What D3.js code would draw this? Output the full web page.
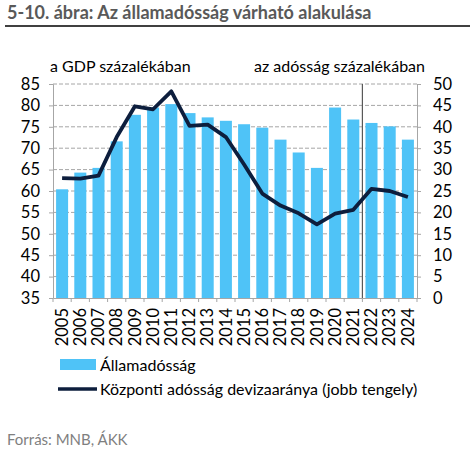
<!DOCTYPE html>
<html>
<head>
<meta charset="utf-8">
<script src="https://cdn.jsdelivr.net/npm/d3@7"></script>
<style>
  body { margin: 0; background: #fff; }
  svg { display: block; font-family: Lato, "Open Sans", sans-serif; }
</style>
</head>
<body>
<svg id="chart" width="474" height="451"></svg>
<script>
// values
var years = ['2005', '2006', '2007', '2008', '2009', '2010', '2011', '2012', '2013', '2014',
             '2015', '2016', '2017', '2018', '2019', '2020', '2021', '2022', '2023', '2024'];
var debt = [60.4, 64.3, 65.4, 71.6, 77.8, 79.5, 80.3, 78.2, 77.2, 76.4,
            75.6, 74.8, 72.0, 69.0, 65.4, 79.5, 76.7, 75.9, 75.1, 72.0];
var fxShare = [28.0, 27.9, 28.6, 37.6, 44.8, 44.1, 48.3, 40.2, 40.5, 37.6,
               31.2, 24.4, 21.6, 19.8, 17.2, 19.7, 20.6, 25.5, 25.0, 23.6];
var leftTicks = [35, 40, 45, 50, 55, 60, 65, 70, 75, 80, 85];
var rightTicks = [0, 5, 10, 15, 20, 25, 30, 35, 40, 45, 50];
var forecastFrom = '2022';

var svg = d3.select('#chart');

var plotLeft = 53, plotRight = 417, plotTop = 84, plotBottom = 298;

var x = d3.scaleBand()
  .domain(years)
  .range([plotLeft, plotRight])
  .paddingInner(0.34)
  .paddingOuter(0.17);

var yL = d3.scaleLinear().domain([35, 85]).range([plotBottom, plotTop]);
var yR = d3.scaleLinear().domain([0, 50]).range([plotBottom, plotTop]);

// title
svg.append('text')
  .attr('x', 7).attr('y', 19)
  .attr('font-size', 18).attr('font-weight', 'bold')
  .attr('fill', '#595959')
  .text('5-10. ábra: Az államadósság várható alakulása');

svg.append('line')
  .attr('x1', 5).attr('x2', 470)
  .attr('y1', 26).attr('y2', 26)
  .attr('stroke', '#404040').attr('stroke-width', 2);

// unit labels
svg.append('text')
  .attr('x', 50).attr('y', 72)
  .attr('font-size', 16)
  .text('a GDP százalékában');

svg.append('text')
  .attr('x', 425).attr('y', 72)
  .attr('font-size', 16)
  .attr('text-anchor', 'end')
  .text('az adósság százalékában');

// gridlines
svg.append('g')
  .selectAll('line')
  .data(leftTicks.slice(1))
  .enter()
  .append('line')
  .attr('x1', plotLeft).attr('x2', plotRight)
  .attr('y1', function(d) { return yL(d); })
  .attr('y2', function(d) { return yL(d); })
  .attr('stroke', '#a6a6a6')
  .attr('stroke-dasharray', '4,2');

// bars
svg.append('g')
  .selectAll('rect')
  .data(debt)
  .enter()
  .append('rect')
  .attr('x', function(d, i) { return x(years[i]); })
  .attr('width', x.bandwidth())
  .attr('y', function(d) { return yL(d); })
  .attr('height', function(d) { return plotBottom - yL(d); })
  .attr('fill', '#4fc3f7');

// forecast divider
var divX = x(forecastFrom) - x.step() * x.paddingInner() / 2;
svg.append('line')
  .attr('x1', divX).attr('x2', divX)
  .attr('y1', plotTop).attr('y2', plotBottom)
  .attr('stroke', '#595959').attr('stroke-width', 1.2);

// line
var line = d3.line()
  .x(function(d, i) { return x(years[i]) + x.bandwidth() / 2; })
  .y(function(d) { return yR(d); });

svg.append('path')
  .datum(fxShare)
  .attr('d', line)
  .attr('fill', 'none')
  .attr('stroke', '#0d1e3d')
  .attr('stroke-width', 3.8)
  .attr('stroke-linejoin', 'round');

// axes
var axisColor = '#a6a6a6';

var leftAxis = svg.append('g')
  .attr('transform', 'translate(' + plotLeft + ',0)')
  .call(d3.axisLeft(yL).tickValues(leftTicks).tickSize(4).tickPadding(9));

var rightAxis = svg.append('g')
  .attr('transform', 'translate(' + plotRight + ',0)')
  .call(d3.axisRight(yR).tickValues(rightTicks).tickSize(4).tickPadding(12));

var xAxis = svg.append('g')
  .attr('transform', 'translate(0,' + plotBottom + ')')
  .call(d3.axisBottom(x).tickSize(0).tickPadding(0));

// ticks at the band boundaries
var step = (plotRight - plotLeft) / years.length;
svg.append('g')
  .selectAll('line')
  .data(d3.range(years.length + 1))
  .enter()
  .append('line')
  .attr('x1', function(i) { return plotLeft + i * step; })
  .attr('x2', function(i) { return plotLeft + i * step; })
  .attr('y1', plotBottom).attr('y2', plotBottom + 4)
  .attr('stroke', axisColor);

[leftAxis, rightAxis, xAxis].forEach(function(g) {
  g.select('.domain').attr('stroke', axisColor);
  g.selectAll('.tick line').attr('stroke', axisColor);
  g.selectAll('text').attr('font-family', 'Lato, sans-serif').attr('font-size', 16.5).attr('fill', '#000');
});

xAxis.selectAll('text')
  .attr('transform', 'rotate(-90)')
  .attr('text-anchor', 'end')
  .attr('dy', '0.35em')
  .attr('x', -10)
  .attr('y', 0);

// legend
var legend = svg.append('g').attr('font-size', 16);

legend.append('rect')
  .attr('x', 60).attr('y', 359)
  .attr('width', 36).attr('height', 11)
  .attr('fill', '#4fc3f7');

legend.append('text')
  .attr('x', 100).attr('y', 371)
  .text('Államadósság');

legend.append('line')
  .attr('x1', 58).attr('x2', 97)
  .attr('y1', 389).attr('y2', 389)
  .attr('stroke', '#0d1e3d').attr('stroke-width', 3.5);

legend.append('text')
  .attr('x', 100).attr('y', 395)
  .text('Központi adósság devizaaránya (jobb tengely)');

// source
svg.append('text')
  .attr('x', 7).attr('y', 445)
  .attr('font-size', 15)
  .attr('fill', '#7f7f7f')
  .text('Forrás: MNB, ÁKK');
</script>
</body>
</html>
